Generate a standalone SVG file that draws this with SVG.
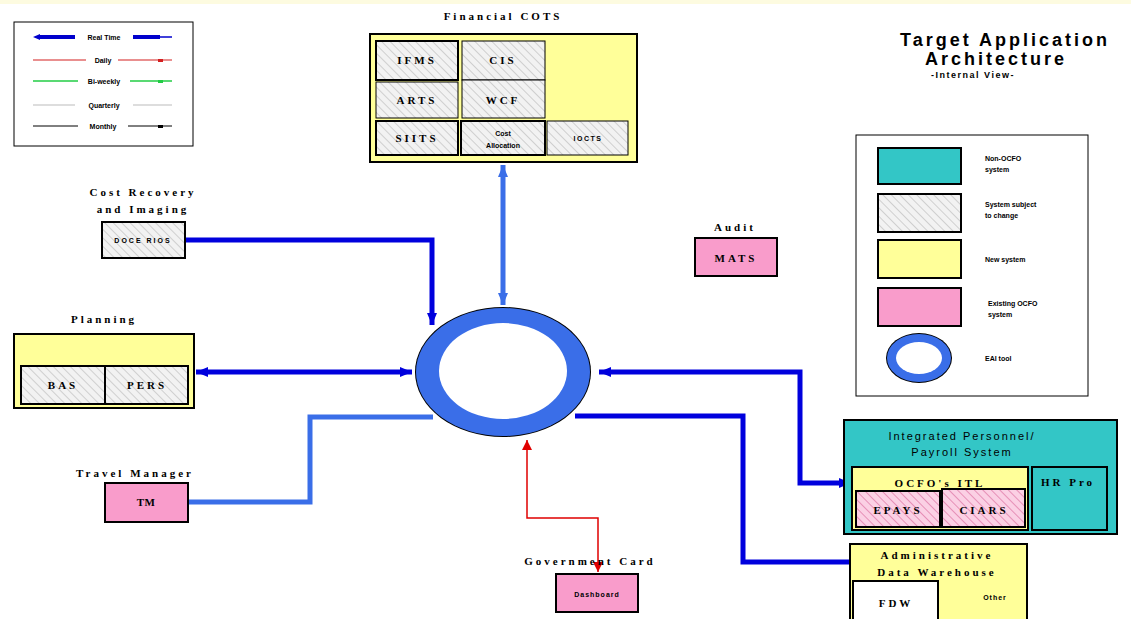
<svg xmlns="http://www.w3.org/2000/svg" width="1131" height="619" viewBox="0 0 1131 619">
<defs>
<pattern id="hatch" patternUnits="userSpaceOnUse" width="6" height="6" patternTransform="rotate(-45)">
<rect width="6" height="6" fill="#f2f2f2"/><line x1="0" y1="0" x2="0" y2="6" stroke="#c4c4c4" stroke-width="1.5"/>
</pattern>
<pattern id="hatchPink" patternUnits="userSpaceOnUse" width="6" height="6" patternTransform="rotate(-45)">
<rect width="6" height="6" fill="#fbd0e4"/><line x1="0" y1="0" x2="0" y2="6" stroke="#e07aa8" stroke-width="1.5"/>
</pattern>
<marker id="arB" markerUnits="userSpaceOnUse" markerWidth="14" markerHeight="14" refX="12" refY="7" orient="auto-start-reverse"><path d="M0,2 L12,7 L0,12 z" fill="#0000dd"/></marker>
<marker id="arL" markerUnits="userSpaceOnUse" markerWidth="14" markerHeight="14" refX="12" refY="7" orient="auto-start-reverse"><path d="M0,2 L12,7 L0,12 z" fill="#3a6ee8"/></marker>
<marker id="arR" markerUnits="userSpaceOnUse" markerWidth="12" markerHeight="12" refX="10" refY="6" orient="auto-start-reverse"><path d="M0,1 L10,6 L0,11 z" fill="#e00000"/></marker>
</defs>
<style>
.box{stroke:#000;stroke-width:2}
.thin{stroke:#000;stroke-width:1}
.yel{fill:#ffff99}
.pink{fill:#f99ccb}
.teal{fill:#33c6c6}
.hat{fill:url(#hatch)}
.hatp{fill:url(#hatchPink)}
.lbl{font-family:"Liberation Serif",serif;font-weight:bold;font-size:11px;letter-spacing:3px;fill:#000;text-anchor:middle}
.cap{font-family:"Liberation Serif",serif;font-weight:bold;font-size:11px;letter-spacing:3px;fill:#000;text-anchor:middle}
.sm{font-family:"Liberation Sans",sans-serif;font-weight:bold;font-size:7px;fill:#000}
.smc{font-family:"Liberation Sans",sans-serif;font-weight:bold;font-size:7px;fill:#000;text-anchor:middle}
.ttl{font-family:"Liberation Sans",sans-serif;font-weight:bold;font-size:18px;letter-spacing:3px;fill:#000;text-anchor:middle}
.cn{fill:none}
</style>
<rect x="0" y="0" width="1131" height="619" fill="#fff"/>
<rect x="0" y="0" width="1131" height="4" fill="#fdfbe0"/>

<g id="legend-frequency">
<rect x="14" y="22" width="179" height="124" fill="#fff" class="thin"/>
<line x1="38" y1="37" x2="75" y2="37" stroke="#0000cc" stroke-width="4"/>
<path d="M33,37 L40,34 L40,40 z" fill="#0000cc"/>
<line x1="133" y1="37" x2="160" y2="37" stroke="#0000cc" stroke-width="4"/>
<line x1="160" y1="37" x2="172" y2="37" stroke="#0000cc" stroke-width="1.5"/>
<text x="104" y="40" class="smc">Real Time</text>
<line x1="33" y1="60" x2="86" y2="60" stroke="#d42020" stroke-width="1.2"/>
<line x1="118" y1="60" x2="172" y2="60" stroke="#d42020" stroke-width="1.2"/>
<rect x="158" y="59" width="5" height="3" fill="#d42020"/>
<text x="103" y="63" class="smc">Daily</text>
<line x1="33" y1="81" x2="78" y2="81" stroke="#22cc44" stroke-width="1.5"/>
<line x1="130" y1="81" x2="172" y2="81" stroke="#22cc44" stroke-width="1.5"/>
<rect x="158" y="80" width="5" height="3" fill="#22cc44"/>
<text x="104" y="84" class="smc">Bi-weekly</text>
<line x1="33" y1="105" x2="75" y2="105" stroke="#bbbbbb" stroke-width="1"/>
<line x1="133" y1="105" x2="172" y2="105" stroke="#bbbbbb" stroke-width="1"/>
<text x="104" y="108" class="smc">Quarterly</text>
<line x1="33" y1="126" x2="78" y2="126" stroke="#000" stroke-width="1"/>
<line x1="128" y1="126" x2="172" y2="126" stroke="#000" stroke-width="1"/>
<rect x="158" y="125" width="5" height="3" fill="#000"/>
<text x="103" y="129" class="smc">Monthly</text>
</g>

<g id="title">
<text x="1005" y="46" class="ttl">Target Application</text>
<text x="996" y="65" class="ttl">Architecture</text>
<text x="973" y="78" style="font-family:'Liberation Sans',sans-serif;font-size:9px;font-weight:bold;letter-spacing:1.5px;text-anchor:middle">-Internal View-</text>
</g>

<g id="connectors">
<path class="cn" d="M185,240 H432 V325" stroke="#0000dd" stroke-width="5" marker-end="url(#arB)"/>
<path class="cn" d="M412,372 H196" stroke="#0000dd" stroke-width="5" marker-start="url(#arB)" marker-end="url(#arB)"/>
<path class="cn" d="M503,165 V305" stroke="#3a6ee8" stroke-width="5" marker-start="url(#arL)" marker-end="url(#arL)"/>
<path class="cn" d="M188,502 H310 V417 H433" stroke="#3a6ee8" stroke-width="5"/>
<path class="cn" d="M599,372 H800 V483 H851" stroke="#0000dd" stroke-width="5" marker-start="url(#arB)" marker-end="url(#arB)"/>
<path class="cn" d="M575,416 H743 V562 H849" stroke="#0000dd" stroke-width="5"/>
<path class="cn" d="M527,440 V518 H598 V572" stroke="#e00000" stroke-width="1.5" marker-start="url(#arR)" marker-end="url(#arR)"/>
</g>

<g id="eai-hub">
<ellipse cx="503" cy="372" rx="88" ry="65" fill="#000"/>
<ellipse cx="503" cy="372" rx="87" ry="64" fill="#3a6ee8"/>
<ellipse cx="503" cy="371" rx="64" ry="48" fill="#fff"/>
</g>

<g id="financial-cots">
<text x="503" y="20" class="cap">Financial COTS</text>
<rect x="370" y="34" width="267" height="128" class="yel box"/>
<rect x="376" y="41" width="82" height="39" class="hat box"/>
<text x="417" y="64" class="lbl">IFMS</text>
<rect x="462" y="41" width="83" height="39" class="hat thin"/>
<text x="503" y="64" class="lbl">CIS</text>
<rect x="376" y="82" width="82" height="36" class="hat thin"/>
<text x="417" y="104" class="lbl">ARTS</text>
<rect x="462" y="80" width="83" height="38" class="hat thin"/>
<text x="503" y="104" class="lbl">WCF</text>
<rect x="376" y="121" width="82" height="34" class="hat box"/>
<text x="417" y="142" class="lbl">SIITS</text>
<rect x="461" y="121" width="84" height="34" class="hat box"/>
<text x="503" y="136" class="smc">Cost</text>
<text x="503" y="148" class="smc">Allocation</text>
<rect x="547" y="121" width="81" height="34" class="hat thin"/>
<text x="588" y="141" class="smc" style="letter-spacing:1.5px">IOCTS</text>
</g>

<g id="cost-recovery">
<text x="143" y="196" class="cap">Cost Recovery</text>
<text x="143" y="213" class="cap">and Imaging</text>
<rect x="102" y="222" width="83" height="36" class="hat box"/>
<text x="143" y="243" class="smc" style="letter-spacing:2px">DOCE RIOS</text>
</g>

<g id="planning">
<text x="104" y="323" class="cap">Planning</text>
<rect x="14" y="334" width="180" height="74" class="yel box"/>
<rect x="21" y="366" width="84" height="38" class="hat box"/>
<text x="63" y="389" class="lbl">BAS</text>
<rect x="105" y="366" width="83" height="38" class="hat box"/>
<text x="147" y="389" class="lbl">PERS</text>
</g>

<g id="travel-manager">
<text x="135" y="477" class="cap">Travel Manager</text>
<rect x="105" y="483" width="83" height="39" class="pink box"/>
<text x="146" y="506" class="lbl" style="letter-spacing:0.5px">TM</text>
</g>

<g id="audit">
<text x="735" y="231" class="cap">Audit</text>
<rect x="695" y="238" width="82" height="38" class="pink box"/>
<text x="736" y="262" class="lbl">MATS</text>
</g>

<g id="government-card">
<text x="590" y="565" class="cap">Government Card</text>
<rect x="556" y="574" width="82" height="38" class="pink box"/>
<text x="597" y="597" class="smc" style="letter-spacing:1px">Dashboard</text>
</g>

<g id="legend-system">
<rect x="856" y="135" width="232" height="261" fill="#fff" class="thin"/>
<rect x="878" y="148" width="83" height="36" class="teal box"/>
<text x="985" y="161" class="sm">Non-OCFO</text>
<text x="985" y="172" class="sm">system</text>
<rect x="878" y="194" width="83" height="38" class="hat box"/>
<text x="985" y="207" class="sm">System subject</text>
<text x="985" y="218" class="sm">to change</text>
<rect x="878" y="240" width="83" height="38" class="yel box"/>
<text x="985" y="262" class="sm">New system</text>
<rect x="878" y="288" width="83" height="38" class="pink box"/>
<text x="988" y="306" class="sm">Existing OCFO</text>
<text x="988" y="317" class="sm">system</text>
<ellipse cx="919" cy="358" rx="33" ry="25" fill="#000"/>
<ellipse cx="919" cy="358" rx="32" ry="24" fill="#3a6ee8"/>
<ellipse cx="919" cy="358" rx="23" ry="16" fill="#fff"/>
<text x="985" y="361" class="sm">EAI tool</text>
</g>

<g id="ipps">
<rect x="844" y="420" width="273" height="114" class="teal box"/>
<text x="962" y="440" class="cap" style="font-family:'Liberation Sans',sans-serif;font-weight:normal;letter-spacing:2px">Integrated Personnel/</text>
<text x="962" y="456" class="cap" style="font-family:'Liberation Sans',sans-serif;font-weight:normal;letter-spacing:2px">Payroll System</text>
<rect x="852" y="467" width="176" height="63" class="yel box"/>
<text x="940" y="487" class="cap">OCFO's ITL</text>
<rect x="856" y="491" width="84" height="36" class="hatp box"/>
<text x="898" y="514" class="lbl">EPAYS</text>
<rect x="942" y="489" width="83" height="38" class="hatp box"/>
<text x="984" y="514" class="lbl">CIARS</text>
<rect x="1032" y="467" width="75" height="63" class="teal box"/>
<text x="1068" y="486" class="cap">HR Pro</text>
</g>

<g id="admin-data-warehouse">
<rect x="850" y="544" width="177" height="80" class="yel box"/>
<text x="937" y="559" class="cap">Administrative</text>
<text x="937" y="576" class="cap">Data Warehouse</text>
<rect x="853" y="581" width="85" height="40" fill="#fff" class="box"/>
<text x="896" y="607" class="lbl">FDW</text>
<text x="995" y="600" class="smc" style="letter-spacing:1px">Other</text>
</g>
</svg>
